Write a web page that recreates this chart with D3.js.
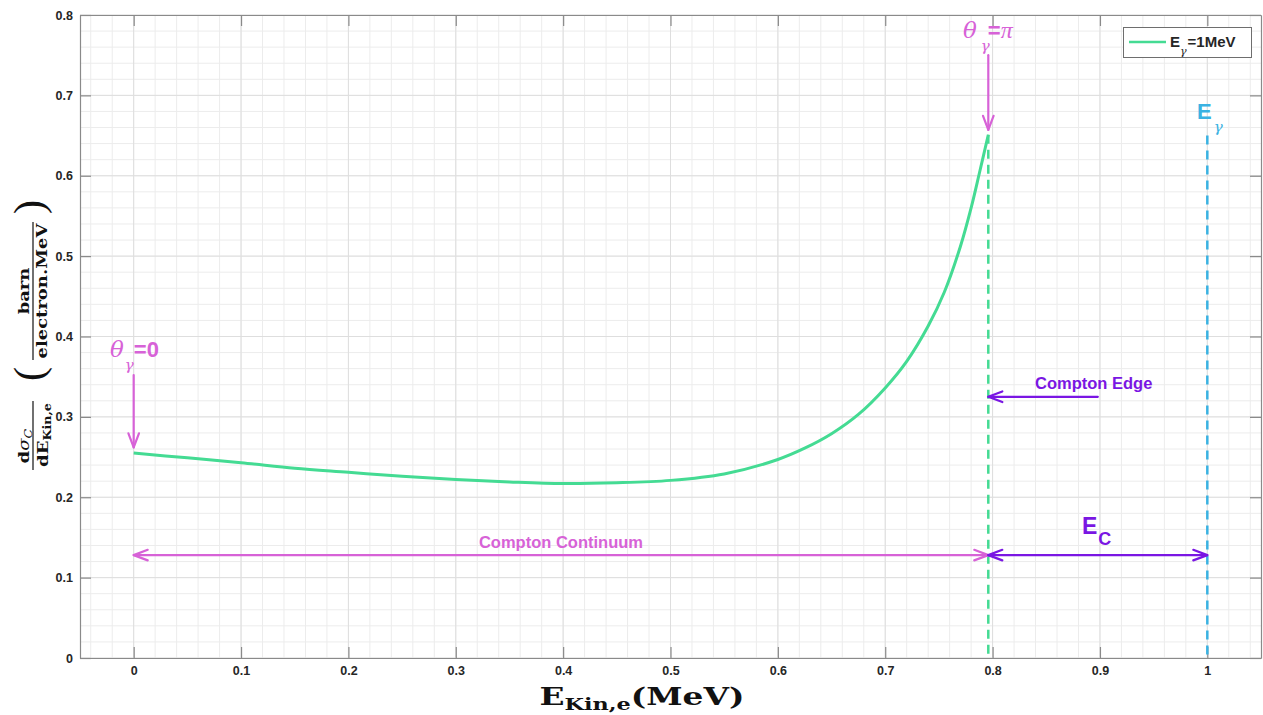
<!DOCTYPE html>
<html><head><meta charset="utf-8">
<script src="https://cdn.jsdelivr.net/npm/d3@7"></script>
<style>body{margin:0;background:#fff}svg{display:block}</style>
</head><body>
<svg id="c" width="1263" height="715"></svg>
<script>
// ---- data ----
const energyMeV = [0, 0.05, 0.1, 0.15, 0.2, 0.25, 0.3, 0.35, 0.4, 0.45, 0.5, 0.55, 0.6, 0.625, 0.65, 0.675, 0.7, 0.72, 0.74, 0.755, 0.77, 0.78, 0.788, 0.796];
const dSigma    = [0.255, 0.249, 0.243, 0.236, 0.231, 0.226, 0.222, 0.219, 0.217, 0.218, 0.221, 0.229, 0.247, 0.261, 0.279, 0.303, 0.336, 0.369, 0.413, 0.455, 0.512, 0.560, 0.605, 0.651];
const xTicks = [0, 0.1, 0.2, 0.3, 0.4, 0.5, 0.6, 0.7, 0.8, 0.9, 1];
const xTickLabels = ["0", "0.1", "0.2", "0.3", "0.4", "0.5", "0.6", "0.7", "0.8", "0.9", "1"];
const yTicks = [0, 0.1, 0.2, 0.3, 0.4, 0.5, 0.6, 0.7, 0.8];
const yTickLabels = ["0", "0.1", "0.2", "0.3", "0.4", "0.5", "0.6", "0.7", "0.8"];
const comptonEdge = 0.796;      // MeV
const edgeValue = 0.651;        // curve value at the edge
const gammaEnergy = 1;          // MeV
const gammaLineTop = 0.65;
const legendLabel = ["E", "\u03b3", "=1MeV"];

// ---- layout ----
const M = {l: 80, r: 1261, t: 15, b: 658};
const svg = d3.select("#c");
const x = d3.scaleLinear().domain([-0.05, 1.05]).range([M.l, M.r]);
const y = d3.scaleLinear().domain([0, 0.8]).range([M.b, M.t]);

const C = {green: "#44db93", pink: "#d762d7", purple: "#7a16e3", cyan: "#3ab2e2", axis: "#8a8a8a", text: "#262626"};
const SANS = "'Liberation Sans', Arial, sans-serif";
const SERIF = "'DejaVu Serif', serif";

// grid
const g = svg.append("g");
const minorX = d3.range(-2, 53).map(i => +(i * 0.02).toFixed(2));
const minorY = d3.range(0, 41).map(i => +(i * 0.02).toFixed(2));
g.selectAll(".gx").data(minorX).join("line")
  .attr("x1", d => x(d)).attr("x2", d => x(d)).attr("y1", M.t).attr("y2", M.b)
  .attr("stroke", "#ececec").attr("stroke-width", 1);
g.selectAll(".gy").data(minorY).join("line")
  .attr("y1", d => y(d)).attr("y2", d => y(d)).attr("x1", M.l).attr("x2", M.r)
  .attr("stroke", "#ececec").attr("stroke-width", 1);
g.selectAll(".Gx").data(xTicks).join("line")
  .attr("x1", d => x(d)).attr("x2", d => x(d)).attr("y1", M.t).attr("y2", M.b)
  .attr("stroke", "#dedede").attr("stroke-width", 1);
g.selectAll(".Gy").data(yTicks).join("line")
  .attr("y1", d => y(d)).attr("y2", d => y(d)).attr("x1", M.l).attr("x2", M.r)
  .attr("stroke", "#dedede").attr("stroke-width", 1);

// axes (inner ticks on all sides)
const tl = 11;
function styleAxis(sel) {
  sel.selectAll(".domain").attr("stroke", C.axis).attr("stroke-width", 1.2);
  sel.selectAll(".tick line").attr("stroke", C.axis).attr("stroke-width", 1.2);
  sel.selectAll(".tick text").attr("fill", C.text).attr("font-family", SANS)
     .attr("font-weight", "bold").attr("font-size", 12.5);
}
const xFmt = (d, i) => xTickLabels[i];
const yFmt = (d, i) => yTickLabels[i];
svg.append("g").attr("transform", `translate(0,${M.b})`)
  .call(d3.axisBottom(x).tickValues(xTicks).tickFormat(xFmt).tickSizeInner(-tl).tickSizeOuter(0).tickPadding(8))
  .call(styleAxis);
svg.append("g").attr("transform", `translate(0,${M.t})`)
  .call(d3.axisTop(x).tickValues(xTicks).tickFormat("").tickSizeInner(-tl).tickSizeOuter(0))
  .call(styleAxis);
svg.append("g").attr("transform", `translate(${M.l},0)`)
  .call(d3.axisLeft(y).tickValues(yTicks).tickFormat(yFmt).tickSizeInner(-tl).tickSizeOuter(0).tickPadding(7))
  .call(styleAxis);
svg.append("g").attr("transform", `translate(${M.r},0)`)
  .call(d3.axisRight(y).tickValues(yTicks).tickFormat("").tickSizeInner(-tl).tickSizeOuter(0))
  .call(styleAxis);

// dashed verticals
svg.append("line").attr("x1", x(comptonEdge)).attr("x2", x(comptonEdge))
  .attr("y1", y(edgeValue)).attr("y2", y(0))
  .attr("stroke", C.green).attr("stroke-width", 2.5).attr("stroke-dasharray", "9,6");
svg.append("line").attr("x1", x(gammaEnergy)).attr("x2", x(gammaEnergy))
  .attr("y1", y(gammaLineTop)).attr("y2", y(0))
  .attr("stroke", C.cyan).attr("stroke-width", 2.5).attr("stroke-dasharray", "9,6");

// curve
const pts = energyMeV.map((e, i) => [e, dSigma[i]]);
svg.append("path").datum(pts)
  .attr("d", d3.line().x(d => x(d[0])).y(d => y(d[1])).curve(d3.curveCatmullRom.alpha(0.5)))
  .attr("fill", "none").attr("stroke", C.green).attr("stroke-width", 3);

// arrows
function arrow(x1, y1, x2, y2, color, both) {
  const ax = svg.append("g").attr("stroke", color).attr("stroke-width", 2.2)
    .attr("fill", "none").attr("stroke-linecap", "round").attr("stroke-linejoin", "round");
  ax.append("line").attr("x1", x1).attr("y1", y1).attr("x2", x2).attr("y2", y2);
  const head = (tx, ty, fx, fy) => {
    const a = Math.atan2(ty - fy, tx - fx), L = 15, w = 0.36;
    const p1 = [tx - L * Math.cos(a - w), ty - L * Math.sin(a - w)];
    const p2 = [tx - L * Math.cos(a + w), ty - L * Math.sin(a + w)];
    ax.append("path").attr("d", `M${p1}L${tx},${ty}L${p2}`);
  };
  head(x2, y2, x1, y1);
  if (both) head(x1, y1, x2, y2);
}
arrow(x(0), y(0.352), x(0), y(0.262), C.pink);
arrow(x(comptonEdge), y(0.75), x(comptonEdge), y(0.657), C.pink);
arrow(x(0.898), y(0.325), x(comptonEdge), y(0.325), C.purple);
arrow(x(0), y(0.128), x(comptonEdge), y(0.128), C.pink, true);
arrow(x(comptonEdge), y(0.128), x(gammaEnergy), y(0.128), C.purple, true);

// annotation texts
function ttext(px, py, parts, color) {
  const t = svg.append("text").attr("x", px).attr("y", py).attr("fill", color);
  parts.forEach(p => {
    const s = t.append("tspan").text(p.t).attr("font-family", p.f || SANS)
      .attr("font-size", p.s).attr("font-weight", p.w || "bold");
    if (p.i) s.attr("font-style", "italic");
    if (p.dy) s.attr("dy", p.dy);
    if (p.dx) s.attr("dx", p.dx);
  });
  return t;
}
ttext(110, 357, [{t: "\u03b8", f: SERIF, s: 23, i: 1, w: "normal"},
                 {t: "\u03b3", f: SERIF, s: 15, i: 1, w: "normal", dy: 13, dx: 1},
                 {t: "=0", s: 22, dy: -13, dx: 0}], C.pink);
ttext(963, 38, [{t: "\u03b8", f: SERIF, s: 23, i: 1, w: "normal"},
                {t: "\u03b3", f: SERIF, s: 15, i: 1, w: "normal", dy: 13, dx: 4},
                {t: "=", s: 22, dy: -13, dx: -2},
                {t: "\u03c0", f: "'Liberation Serif', serif", s: 24, i: 1, w: "normal"}], C.pink);
ttext(1197, 119, [{t: "E", s: 22},
                  {t: "\u03b3", f: SERIF, s: 15, i: 1, w: "normal", dy: 13, dx: 2}], C.cyan);
ttext(1082, 534, [{t: "E", s: 23},
                  {t: "C", s: 18, dy: 11, dx: 1}], C.purple);
svg.append("text").attr("x", 1035).attr("y", 389).attr("fill", C.purple)
  .attr("font-family", SANS).attr("font-weight", "bold").attr("font-size", 16.5)
  .text("Compton Edge");
svg.append("text").attr("x", x(comptonEdge / 2)).attr("y", 548).attr("fill", C.pink)
  .attr("text-anchor", "middle")
  .attr("font-family", SANS).attr("font-weight", "bold").attr("font-size", 16.5)
  .text("Compton Continuum");

// legend
const lg = svg.append("g");
lg.append("rect").attr("x", 1123.5).attr("y", 27.5).attr("width", 128).attr("height", 30)
  .attr("fill", "#fff").attr("stroke", "#6e6e6e").attr("stroke-width", 1);
lg.append("line").attr("x1", 1129).attr("x2", 1166).attr("y1", 42).attr("y2", 42)
  .attr("stroke", C.green).attr("stroke-width", 2.5);
const lt = lg.append("text").attr("x", 1170).attr("y", 47).attr("fill", C.text);
lt.append("tspan").text(legendLabel[0]).attr("font-family", SANS).attr("font-weight", "bold").attr("font-size", 15);
lt.append("tspan").text(legendLabel[1]).attr("font-family", SERIF).attr("font-style", "italic").attr("font-size", 11).attr("dy", 8).attr("dx", 0);
lt.append("tspan").text(legendLabel[2]).attr("font-family", SANS).attr("font-weight", "bold").attr("font-size", 15).attr("dy", -8).attr("dx", 1);

// horizontal stretch of a text element to a target width, about its centre
function hfit(sel, target) {
  const b = sel.node().getBBox();
  const k = target / b.width, cx = b.x + b.width / 2;
  sel.attr("transform", `translate(${cx},0) scale(${k},1) translate(${-cx},0)`);
  return k;
}
function hscale(sel, k) {
  const b = sel.node().getBBox(), cx = b.x + b.width / 2;
  sel.attr("transform", `translate(${cx},0) scale(${k},1) translate(${-cx},0)`);
}

// x-axis label
const xl = svg.append("text").attr("x", 642).attr("y", 705).attr("text-anchor", "middle")
  .attr("font-family", SERIF).attr("font-weight", "bold").attr("font-size", 24).attr("fill", "#111");
xl.append("tspan").text("E");
xl.append("tspan").text("Kin,e").attr("font-size", "0.68em").attr("dy", "0.3em");
xl.append("tspan").text("(MeV)").attr("dy", "-0.2em");
hfit(xl, 205);

// y-axis label (rotated)
const yl = svg.append("g").attr("transform", "translate(33,338) rotate(-90)").attr("fill", "#111");
const den1 = yl.append("text").attr("x", -97).attr("y", 15).attr("text-anchor", "middle")
  .attr("font-family", SERIF).attr("font-weight", "bold").attr("font-size", 15.5);
den1.append("tspan").text("dE");
den1.append("tspan").text("Kin,e").attr("font-size", "0.7em").attr("dy", "0.3em");
const k1 = hfit(den1, 64);
const num1 = yl.append("text").attr("x", -108).attr("y", -4).attr("text-anchor", "middle")
  .attr("font-family", SERIF).attr("font-weight", "bold").attr("font-size", 15.5);
num1.append("tspan").text("d");
num1.append("tspan").text("\u03c3").attr("font-style", "italic").attr("font-weight", "normal");
num1.append("tspan").text("C").attr("font-style", "italic").attr("font-weight", "normal").attr("font-size", "0.7em").attr("dy", "0.25em");
hscale(num1, k1);
yl.append("line").attr("x1", -132).attr("x2", -63).attr("y1", 0).attr("y2", 0)
  .attr("stroke", "#111").attr("stroke-width", 1.2);

const den2 = yl.append("text").attr("x", 47).attr("y", 14).attr("text-anchor", "middle")
  .attr("font-family", SERIF).attr("font-weight", "bold").attr("font-size", 15.5).text("electron.MeV");
const k2 = hfit(den2, 136);
const bn = yl.append("text").attr("x", 47).attr("y", -4).attr("text-anchor", "middle")
  .attr("font-family", SERIF).attr("font-weight", "bold").attr("font-size", 15.5).text("barn");
hscale(bn, k2);
yl.append("line").attr("x1", -22).attr("x2", 116).attr("y1", 0).attr("y2", 0)
  .attr("stroke", "#111").attr("stroke-width", 1.2);
yl.append("text").attr("x", -36).attr("y", 10).attr("text-anchor", "middle")
  .attr("font-family", "'Liberation Serif', serif").attr("font-size", 42).text("(");
yl.append("text").attr("x", 131).attr("y", 10).attr("text-anchor", "middle")
  .attr("font-family", "'Liberation Serif', serif").attr("font-size", 42).text(")");
</script>
</body></html>
